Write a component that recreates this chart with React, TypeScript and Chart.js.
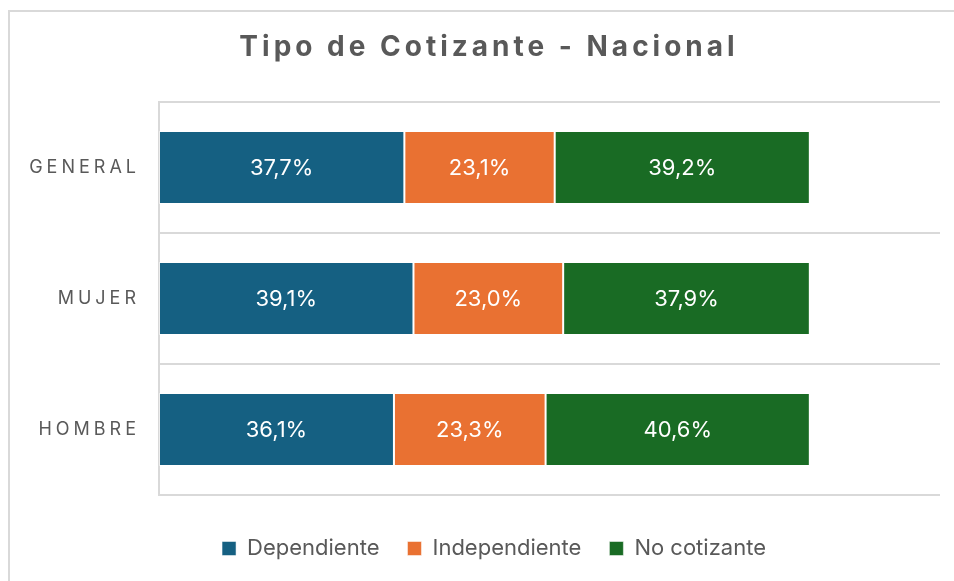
import React, { useEffect, useRef } from "react";
import { Chart, registerables } from "chart.js";

Chart.register(...registerables);

const chartTitle = "Tipo de Cotizante - Nacional";
const categories = ["GENERAL", "MUJER", "HOMBRE"];
const seriesNames = ["Dependiente", "Independiente", "No cotizante"];
const dependiente = [37.7, 39.1, 36.1];
const independiente = [23.1, 23.0, 23.3];
const noCotizante = [39.2, 37.9, 40.6];
const seriesColors = ["#156082", "#E97132", "#196B24"];
const xMin = 0;
const xMax = 120;

const FONT = "Inter";
const TEXT_GREY = "#595959";
const GRID_GREY = "#d9d9d9";

const fmt = (v: number) => v.toFixed(1).replace(".", ",") + "%";

const dataLabelPlugin = {
  id: "dataLabelPlugin",
  afterDatasetsDraw(chart: any) {
    const ctx = chart.ctx;
    ctx.save();
    ctx.font = `22px ${FONT}`;
    ctx.fillStyle = "#ffffff";
    ctx.textAlign = "center";
    ctx.textBaseline = "middle";
    chart.data.datasets.forEach((ds: any, di: number) => {
      const meta = chart.getDatasetMeta(di);
      meta.data.forEach((bar: any, i: number) => {
        const p = bar.getProps(["x", "y", "base"], true);
        ctx.fillText(fmt(ds.data[i]), (p.x + p.base) / 2, p.y + 1);
      });
    });
    ctx.restore();
  },
};

const wrapDraw = (obj: any, key: string, spacing: string | null, dx: number, chart: any) => {
  if (!obj || obj["__w_" + key]) return;
  const orig = obj[key].bind(obj);
  obj[key] = (area: any) => {
    const ctx = chart.ctx;
    ctx.save();
    if (spacing) ctx.letterSpacing = spacing;
    ctx.translate(dx, 0);
    orig(area);
    ctx.restore();
  };
  obj["__w_" + key] = true;
};

const spacingPlugin = {
  id: "spacingPlugin",
  beforeDraw(chart: any) {
    wrapDraw(chart.scales.y, "drawLabels", "4px", 0, chart);
    wrapDraw(chart.titleBlock, "draw", "4px", 9, chart);
    wrapDraw(chart.legend, "draw", null, 14, chart);
  },
};

export default function App() {
  const ref = useRef<HTMLCanvasElement>(null);

  useEffect(() => {
    if (!ref.current) return;
    const seriesData = [dependiente, independiente, noCotizante];
    const chart = new Chart(ref.current, {
      type: "bar",
      data: {
        labels: categories,
        datasets: seriesNames.map((name, i) => ({
          label: name,
          data: seriesData[i],
          backgroundColor: seriesColors[i],
          borderColor: "rgba(255,255,255,0.5)",
          borderWidth: 1,
          borderSkipped: false,
          categoryPercentage: 1,
          barPercentage: 0.557,
        })),
      },
      options: {
        indexAxis: "y",
        responsive: false,
        animation: false,
        layout: { padding: { left: 20, right: 14, top: 0, bottom: 11.5 } },
        scales: {
          x: {
            stacked: true,
            min: xMin,
            max: xMax,
            display: true,
            grid: { display: false },
            border: { display: false },
            ticks: { display: false },
            afterFit: (s: any) => {
              s.height = 14.5;
            },
          },
          y: {
            stacked: true,
            grid: {
              display: true,
              color: GRID_GREY,
              lineWidth: 2,
              drawTicks: false,
              offset: true,
            },
            border: { display: true, color: GRID_GREY, width: 2 },
            ticks: {
              color: TEXT_GREY,
              font: { family: FONT, size: 18 },
              padding: 19,
            },
            afterFit: (s: any) => {
              s.width = 139;
            },
          },
        },
        plugins: {
          title: {
            display: true,
            text: chartTitle,
            color: TEXT_GREY,
            font: { family: FONT, size: 28, weight: "bold" },
            padding: { top: 31, bottom: 37.4 },
          },
          legend: {
            display: true,
            position: "bottom",
            labels: {
              boxWidth: 14,
              boxHeight: 14,
              color: TEXT_GREY,
              font: { family: FONT, size: 22 },
              padding: 28,
            },
          },
          tooltip: { enabled: false },
        },
      },
      plugins: [dataLabelPlugin, spacingPlugin],
    } as any);
    return () => chart.destroy();
  }, []);

  return (
    <div
      style={{
        position: "fixed",
        left: 0,
        top: 0,
        width: 954,
        height: 581,
        overflow: "hidden",
        background: "#ffffff",
      }}
    >
      <div
        style={{
          position: "absolute",
          left: 8,
          top: 10,
          width: 1200,
          height: 1200,
          border: `2px solid ${GRID_GREY}`,
          boxSizing: "border-box",
        }}
      />
      <canvas
        ref={ref}
        width={954}
        height={581}
        style={{ position: "absolute", left: 0, top: 0, width: 954, height: 581 }}
      />
    </div>
  );
}
